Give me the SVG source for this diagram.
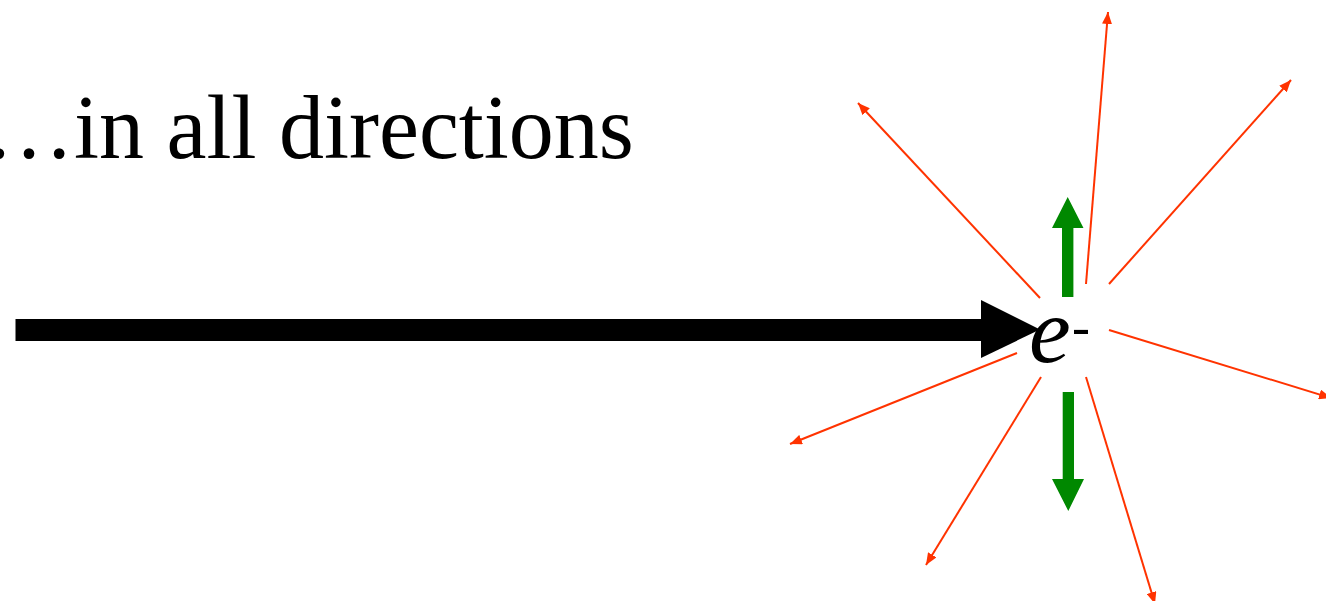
<svg xmlns="http://www.w3.org/2000/svg" width="1326" height="601" viewBox="0 0 1326 601">
  <style>
    .ray { stroke: #ff3300; stroke-width: 2; fill: none; marker-end: url(#redhead); }
    .green { fill: #008800; }
  </style>
  <defs>
    <marker id="redhead" markerUnits="userSpaceOnUse" viewBox="0 0 12 10" markerWidth="12" markerHeight="10" refX="12" refY="5" orient="auto">
      <path d="M0,0 L12,5 L0,10 z" fill="#ff3300"/>
    </marker>
  </defs>
  <rect width="1326" height="601" fill="#ffffff"/>

  <g id="title">
    <text x="-16" y="158" font-family="'Liberation Serif', 'DejaVu Serif', serif" font-size="90" fill="#000">…in all directions</text>
  </g>

  <g id="connectors">
    <g id="incoming">
      <rect x="15.5" y="319" width="967" height="22" fill="#000"/>
      <path d="M981,300 L1040,329.5 L981,358 z" fill="#000"/>
    </g>
    <g id="rays">
      <line class="ray" x1="1040" y1="298" x2="858" y2="103"/>
      <line class="ray" x1="1086" y1="284" x2="1108" y2="12"/>
      <line class="ray" x1="1109" y1="284" x2="1291" y2="80"/>
      <line class="ray" x1="1109" y1="330" x2="1331" y2="398"/>
      <line class="ray" x1="1017" y1="353" x2="790" y2="444"/>
      <line class="ray" x1="1041" y1="377" x2="926" y2="565"/>
      <line class="ray" x1="1086" y1="377" x2="1155" y2="604"/>
    </g>
    <g id="field-up">
      <path class="green" d="M1062,297 L1062,228 L1052,228 L1067.7,197 L1083.5,228 L1073.4,228 L1073.4,297 z"/>
    </g>
    <g id="field-down">
      <path class="green" d="M1062.7,392 L1074,392 L1074,479 L1084,479 L1068.3,511 L1052,479 L1062.7,479 z"/>
    </g>
  </g>

  <g id="electron">
    <text x="1029" y="362" font-family="'Liberation Serif', 'DejaVu Serif', serif" font-size="94" font-style="italic" fill="#000">e</text>
    <text x="1072" y="345" font-family="'Liberation Serif', 'DejaVu Serif', serif" font-size="54" fill="#000">-</text>
  </g>
</svg>
